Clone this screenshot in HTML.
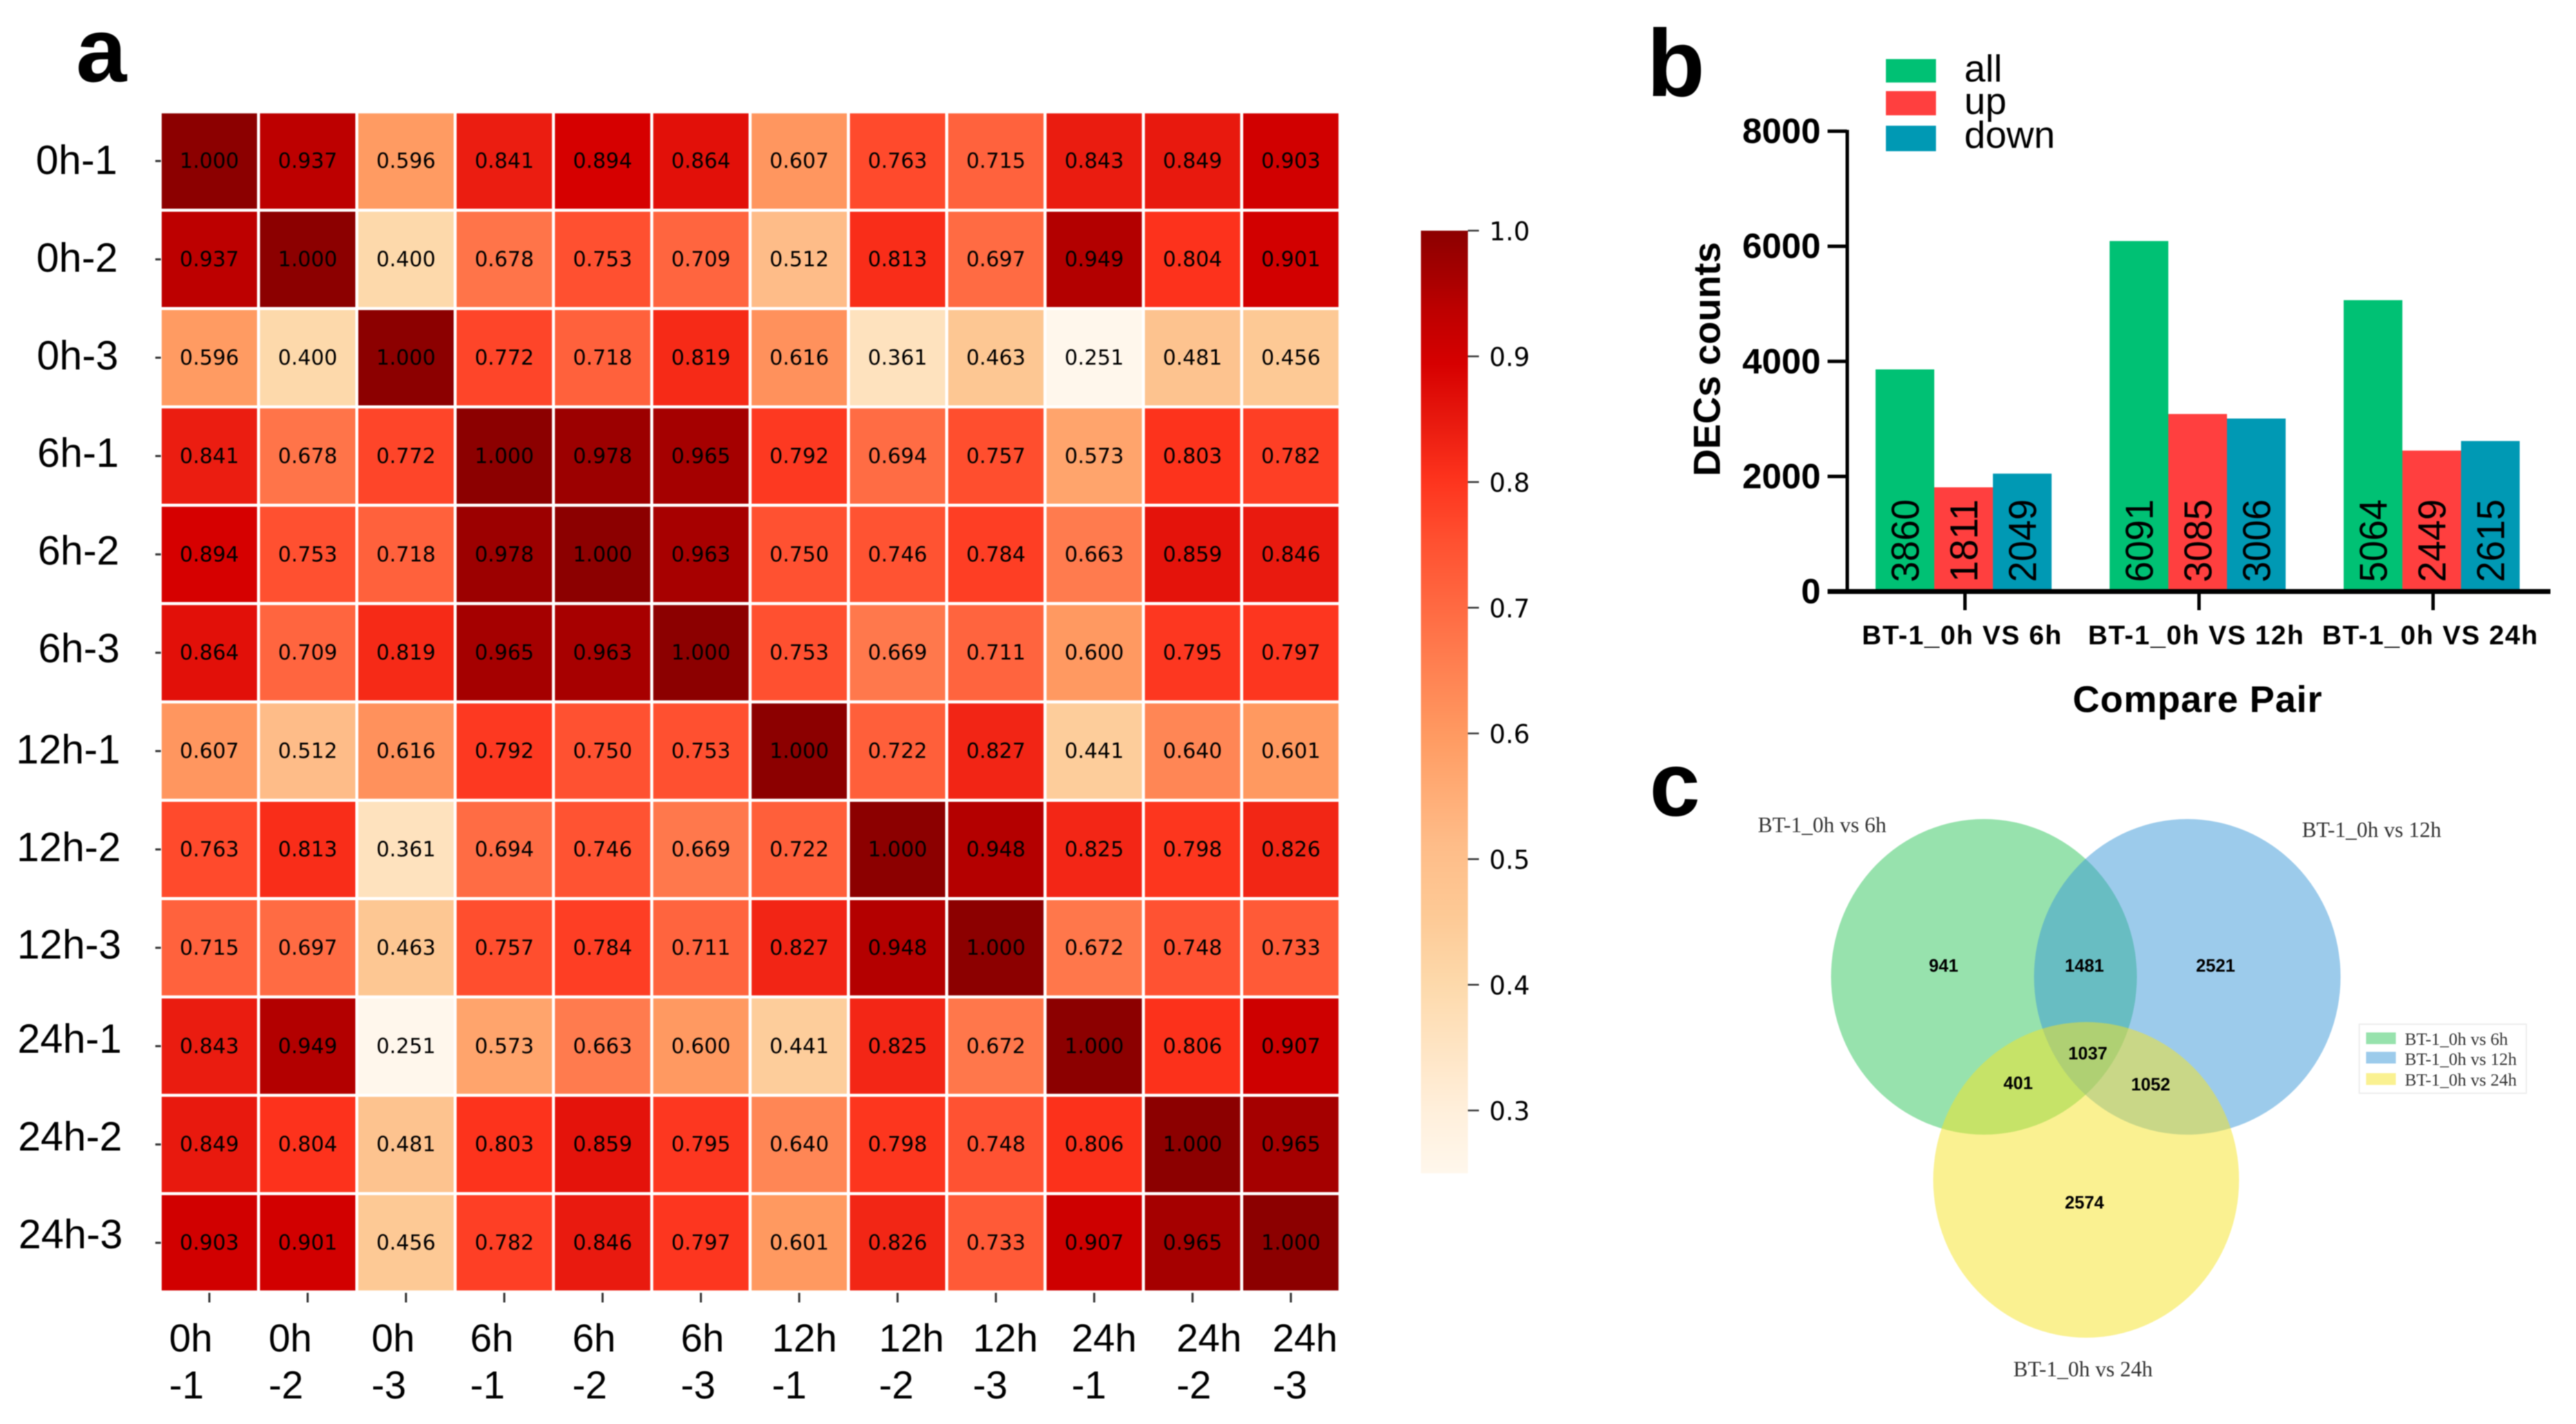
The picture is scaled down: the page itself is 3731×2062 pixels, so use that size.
<!DOCTYPE html>
<html lang="en">
<head>
<meta charset="utf-8">
<title>Sample correlation heatmap, DEC counts and Venn diagram</title>
<style>
  html, body { margin: 0; padding: 0; background: #fff; }
  body { width: 3731px; height: 2062px; overflow: hidden; }
  svg { display: block; filter: blur(0.9px); }
  text { font-family: "Liberation Sans", sans-serif; fill: #000; }
  .dv { font-family: "DejaVu Sans", sans-serif; }
  .serif { font-family: "Liberation Serif", serif; fill: #333; }
  .bold { font-weight: 700; }
  .xl { font-size: 56.5px; }
</style>
</head>
<body>
<svg id="figure" xmlns="http://www.w3.org/2000/svg" width="3731" height="2062" viewBox="0 0 3731 2062">
  <rect x="0" y="0" width="3731" height="2062" fill="#fff"/>

  <text class="bold" x="110" y="118" font-size="132">a</text>
  <text class="bold" x="2385" y="139" font-size="138">b</text>
  <text class="bold" x="2389" y="1181" font-size="132">c</text>

  <g id="heatmap"></g>
  <g id="heat-y"></g>
  <g id="heat-xticks"></g>

  <g>
    <text class="xl" x="245" y="1957">0h<tspan x="245" y="2025">-1</tspan></text>
    <text class="xl" x="389" y="1957">0h<tspan x="389" y="2025">-2</tspan></text>
    <text class="xl" x="538" y="1957">0h<tspan x="538" y="2025">-3</tspan></text>
    <text class="xl" x="681" y="1957">6h<tspan x="681" y="2025">-1</tspan></text>
    <text class="xl" x="829" y="1957">6h<tspan x="829" y="2025">-2</tspan></text>
    <text class="xl" x="986" y="1957">6h<tspan x="986" y="2025">-3</tspan></text>
    <text class="xl" x="1118" y="1957">12h<tspan x="1118" y="2025">-1</tspan></text>
    <text class="xl" x="1273" y="1957">12h<tspan x="1273" y="2025">-2</tspan></text>
    <text class="xl" x="1409" y="1957">12h<tspan x="1409" y="2025">-3</tspan></text>
    <text class="xl" x="1552" y="1957">24h<tspan x="1552" y="2025">-1</tspan></text>
    <text class="xl" x="1704" y="1957">24h<tspan x="1704" y="2025">-2</tspan></text>
    <text class="xl" x="1843" y="1957">24h<tspan x="1843" y="2025">-3</tspan></text>
  </g>

  <defs>
    <linearGradient id="cbar-gradient" x1="0" y1="1" x2="0" y2="0"></linearGradient>
  </defs>
  <g id="colorbar"></g>

  <g id="bars"></g>
  <text class="bold" transform="translate(2491 520) rotate(-90)" text-anchor="middle" font-size="54.5">DECs counts</text>
  <text class="bold" x="3183" y="1031" text-anchor="middle" font-size="54" letter-spacing="0.9">Compare Pair</text>

  <g>
    <rect x="2731.5" y="85.5" width="72.5" height="34" fill="#00c174"/>
    <text x="2845" y="118" font-size="55">all</text>
    <rect x="2731.5" y="132" width="72.5" height="35" fill="#ff3f3f"/>
    <text x="2845" y="165" font-size="55">up</text>
    <rect x="2731.5" y="182" width="72.5" height="37" fill="#0099b4"/>
    <text x="2845" y="214" font-size="55">down</text>
  </g>

  <g>
    <ellipse cx="2873.5" cy="1414.5" rx="221.5" ry="228.5" fill="#2fc55b" fill-opacity="0.5"/>
    <ellipse cx="3168" cy="1414.5" rx="222" ry="228.5" fill="#3997d7" fill-opacity="0.5"/>
    <ellipse cx="3021.5" cy="1708.5" rx="221.5" ry="228.5" fill="#f5e323" fill-opacity="0.5"/>
    <g class="bold" font-size="25.5" text-anchor="middle">
      <text x="2815" y="1407">941</text>
      <text x="3019" y="1407">1481</text>
      <text x="3209" y="1407">2521</text>
      <text x="3024" y="1534">1037</text>
      <text x="2923" y="1577">401</text>
      <text x="3115" y="1579">1052</text>
      <text x="3019" y="1750">2574</text>
    </g>
    <text class="serif" x="2546" y="1205" font-size="31.5">BT-1_0h vs 6h</text>
    <text class="serif" x="3334" y="1212" font-size="31.5">BT-1_0h vs 12h</text>
    <text class="serif" x="2916" y="1993" font-size="31.5">BT-1_0h vs 24h</text>
  </g>

  <g>
    <rect x="3417" y="1483" width="242" height="100" fill="#fff" stroke="#eeeeee" stroke-width="2"/>
    <rect x="3427" y="1495" width="43" height="17" fill="#97e2ad"/>
    <rect x="3427" y="1523" width="43" height="17" fill="#9ccbeb"/>
    <rect x="3427" y="1554" width="43" height="17" fill="#faf191"/>
    <text class="serif" x="3483" y="1513" font-size="25.3">BT-1_0h vs 6h</text>
    <text class="serif" x="3483" y="1542" font-size="25.3">BT-1_0h vs 12h</text>
    <text class="serif" x="3483" y="1572" font-size="25.3">BT-1_0h vs 24h</text>
  </g>
</svg>

<script>
// ---- Heatmap data ----
const sampleLabels = ['0h-1','0h-2','0h-3','6h-1','6h-2','6h-3','12h-1','12h-2','12h-3','24h-1','24h-2','24h-3'];
const row0h1  = [1.000,0.937,0.596,0.841,0.894,0.864,0.607,0.763,0.715,0.843,0.849,0.903];
const row0h2  = [0.937,1.000,0.400,0.678,0.753,0.709,0.512,0.813,0.697,0.949,0.804,0.901];
const row0h3  = [0.596,0.400,1.000,0.772,0.718,0.819,0.616,0.361,0.463,0.251,0.481,0.456];
const row6h1  = [0.841,0.678,0.772,1.000,0.978,0.965,0.792,0.694,0.757,0.573,0.803,0.782];
const row6h2  = [0.894,0.753,0.718,0.978,1.000,0.963,0.750,0.746,0.784,0.663,0.859,0.846];
const row6h3  = [0.864,0.709,0.819,0.965,0.963,1.000,0.753,0.669,0.711,0.600,0.795,0.797];
const row12h1 = [0.607,0.512,0.616,0.792,0.750,0.753,1.000,0.722,0.827,0.441,0.640,0.601];
const row12h2 = [0.763,0.813,0.361,0.694,0.746,0.669,0.722,1.000,0.948,0.825,0.798,0.826];
const row12h3 = [0.715,0.697,0.463,0.757,0.784,0.711,0.827,0.948,1.000,0.672,0.748,0.733];
const row24h1 = [0.843,0.949,0.251,0.573,0.663,0.600,0.441,0.825,0.672,1.000,0.806,0.907];
const row24h2 = [0.849,0.804,0.481,0.803,0.859,0.795,0.640,0.798,0.748,0.806,1.000,0.965];
const row24h3 = [0.903,0.901,0.456,0.782,0.846,0.797,0.601,0.826,0.733,0.907,0.965,1.000];
const heatRows = [row0h1,row0h2,row0h3,row6h1,row6h2,row6h3,row12h1,row12h2,row12h3,row24h1,row24h2,row24h3];
const colorbarTicks = [1.0,0.9,0.8,0.7,0.6,0.5,0.4,0.3];

// ---- Bar chart data ----
const comparePairs = ['BT-1_0h VS 6h','BT-1_0h VS 12h','BT-1_0h VS 24h'];
const allCounts  = [3860,6091,5064];
const upCounts   = [1811,3085,2449];
const downCounts = [2049,3006,2615];
const countTicks = [0,2000,4000,6000,8000];

// ---- Colour scale ----
const rampValues = [0.25,0.30,0.40,0.456,0.512,0.596,0.678,0.753,0.804,0.843,0.894,0.937,0.965,1.00];
const rampColors = ['#fff7ec','#ffefdb','#fdd9ab','#fdc995','#febc88','#ff9b62','#ff7449','#ff5030','#fd321c','#ea1c10','#d60000','#bd0000','#a50000','#8c0000'];

const SVGNS = 'http://www.w3.org/2000/svg';
function make(parent, tag, attrs, content) {
  const el = document.createElementNS(SVGNS, tag);
  for (const k in attrs) el.setAttribute(k, attrs[k]);
  if (content !== undefined) el.textContent = content;
  parent.appendChild(el);
  return el;
}
function hexToRgb(h) { return [1,3,5].map(i => parseInt(h.slice(i, i + 2), 16)); }
function colorFor(v) {
  if (v <= rampValues[0]) return rampColors[0];
  for (let i = 1; i < rampValues.length; i++) {
    if (v <= rampValues[i]) {
      const t = (v - rampValues[i-1]) / (rampValues[i] - rampValues[i-1]);
      const a = hexToRgb(rampColors[i-1]), b = hexToRgb(rampColors[i]);
      return 'rgb(' + a.map((c, j) => Math.round(c + (b[j] - c) * t)).join(',') + ')';
    }
  }
  return rampColors[rampColors.length - 1];
}

// ---- Heatmap ----
const heatLeft = 232, heatTop = 162, cellW = 142.4, cellH = 142.4, gap = 4.4;
const heatX = i => heatLeft + i * cellW;
const heatY = i => heatTop + i * cellH;
const heatG = document.getElementById('heatmap');
heatRows.forEach((row, r) => {
  row.forEach((v, c) => {
    const rect = make(heatG, 'rect', { x: heatX(c) + gap / 2, y: heatY(r) + gap / 2, width: cellW - gap, height: cellH - gap, fill: colorFor(v) });
    
    
    const label = make(heatG, 'text', { class: 'dv', x: heatX(c) + cellW / 2, y: heatY(r) + cellH / 2 + 10, 'text-anchor': 'middle', 'font-size': 30, fill: '#140404' }, v.toFixed(3));
    
    
  });
});
const yAxisG = document.getElementById('heat-y');
sampleLabels.forEach((name, k) => {
  const tick = make(yAxisG, 'rect', { x: 225, y: heatY(k) + cellH / 2 - 1.5, width: 8, height: 3, fill: '#333' });
  
  
  const lift = name.startsWith('12h') ? 5 : 0;
  const label = make(yAxisG, 'text', { x: 170 + 0.7 * k, y: 252 + 141.4 * k + lift, 'text-anchor': 'end', 'font-size': 59 }, name);
  
  
});
const xTickG = document.getElementById('heat-xticks');
sampleLabels.forEach((name, k) => {
  const tick = make(xTickG, 'rect', { x: heatX(k) + cellW / 2 - 1.5, y: 1872, width: 3, height: 14, fill: '#333' });
  
  
});

// ---- Colorbar ----
const cbarTop = 334, cbarPerUnit = 1820, cbarMin = 0.25, cbarMax = 1.0;
const cbarY = v => cbarTop + (cbarMax - v) * cbarPerUnit;
const grad = document.getElementById('cbar-gradient');
rampValues.forEach((v, i) => {
  make(grad, 'stop', { offset: Math.max(0, (v - cbarMin) / (cbarMax - cbarMin)), 'stop-color': rampColors[i] });
});
const cbarG = document.getElementById('colorbar');
const cbarRect = make(cbarG, 'rect', { x: 2058, y: cbarY(cbarMax), width: 68, height: cbarY(cbarMin) - cbarY(cbarMax), fill: 'url(#cbar-gradient)' });


colorbarTicks.forEach(v => {
  const tick = make(cbarG, 'rect', { x: 2126, y: cbarY(v) - 1.25, width: 16, height: 2.5, fill: '#333' });
  
  
  const label = make(cbarG, 'text', { class: 'dv', x: 2157, y: cbarY(v) + 14, 'font-size': 37, fill: '#222' }, v.toFixed(1));
  
  
});

// ---- Bars ----
const barBase = 856.5, barPerUnit = 666.5 / 8000, barW = 85, groupStart = 2716.5, groupStep = 339;
const valueY = v => barBase - v * barPerUnit;
const groupX = g => groupStart + g * groupStep;
const barG = document.getElementById('bars');
const seriesList = [
  { name: 'all', values: allCounts, fill: '#00c174' },
  { name: 'up', values: upCounts, fill: '#ff3f3f' },
  { name: 'down', values: downCounts, fill: '#0099b4' }
];
seriesList.forEach((s, si) => {
  s.values.forEach((v, g) => {
    const x = groupX(g) + si * barW;
    const bar = make(barG, 'rect', { x: x, y: valueY(v), width: barW, height: barBase - valueY(v), fill: s.fill });
    
    
    const t = make(barG, 'text', { transform: 'translate(' + (x + barW / 2 + 20) + ' 843) rotate(-90)', 'font-size': 57, textLength: 120, lengthAdjust: 'spacingAndGlyphs', fill: '#111' }, String(v));
    
    
  });
});
const yAxisLine = make(barG, 'rect', { x: 2673, y: valueY(8000) - 2, width: 5, height: barBase - valueY(8000) + 2, fill: '#000' });


const xAxisLine = make(barG, 'rect', { x: 2647, y: barBase - 3.5, width: 1047, height: 7, fill: '#000' });


countTicks.forEach(v => {
  const tick = make(barG, 'rect', { x: 2647, y: valueY(v) - 2.5, width: 28, height: 5, fill: '#000' });
  
  
  const label = make(barG, 'text', { class: 'bold', x: 2637, y: valueY(v) + 17, 'text-anchor': 'end', 'font-size': 51 }, String(v));
  
  
});
comparePairs.forEach((name, g) => {
  const cx = groupX(g) + 1.5 * barW;
  const tick = make(barG, 'rect', { x: cx - 0.5, y: barBase, width: 5, height: 27, fill: '#000' });
  
  
  const label = make(barG, 'text', { class: 'bold', x: cx - 2, y: 933, 'text-anchor': 'middle', 'font-size': 39, 'letter-spacing': 1.5, fill: '#222' }, name);
  
  
});
</script>
</body>
</html>
